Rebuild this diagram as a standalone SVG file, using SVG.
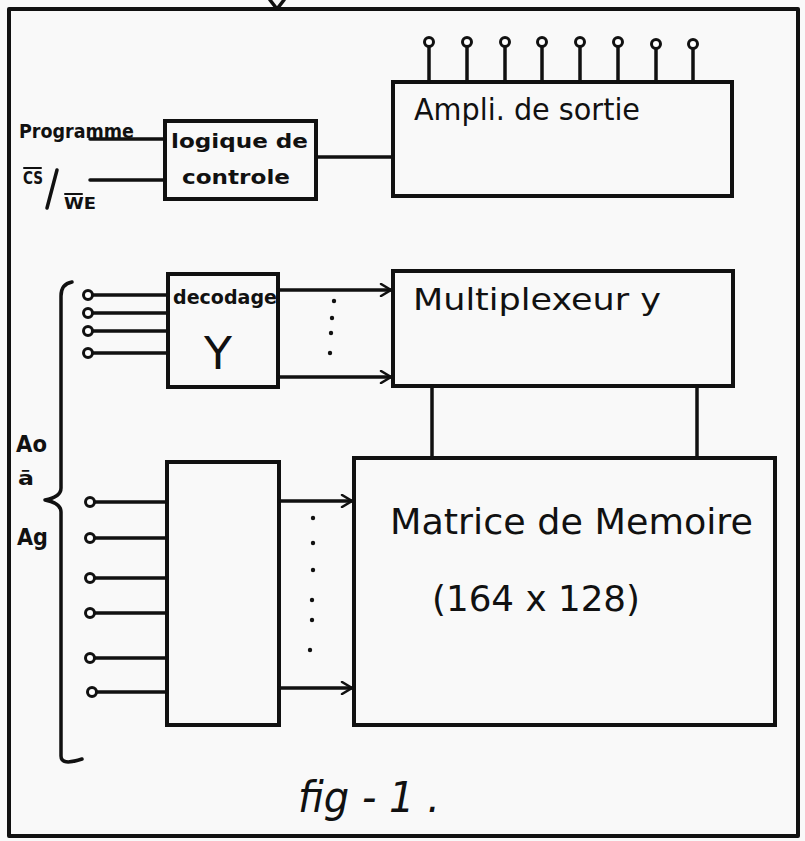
<svg xmlns="http://www.w3.org/2000/svg" width="805" height="841" viewBox="0 0 805 841">
<defs>
<style>
.ln{stroke:#111;stroke-width:3.5;fill:none;stroke-linecap:round;stroke-linejoin:round}
.box{stroke:#111;stroke-width:4;fill:none}
.pin{stroke:#111;stroke-width:3;fill:#fff}
.t{font-family:"DejaVu Sans","Liberation Sans",sans-serif;fill:#111}
.b{font-weight:bold}
</style>
<marker id="arr" markerWidth="14" markerHeight="14" refX="12" refY="7" orient="auto" markerUnits="userSpaceOnUse">
<path d="M2,1 L12,7 L2,13" fill="none" stroke="#111" stroke-width="2.5" stroke-linecap="round"/>
</marker>
</defs>
<rect width="805" height="841" fill="#f9f9f9"/>
<g id="frame">
<path class="ln" d="M9,9 L798,9 L798,836 L9,836 Z" style="stroke-width:4"/>
<path class="ln" d="M270,0 L277,9 L284,0"/>
</g>
<g id="ampli">
<rect class="box" x="393" y="82" width="339" height="114"/>
<text class="t" x="414" y="120" font-size="30" textLength="226" lengthAdjust="spacingAndGlyphs">Ampli. de sortie</text>
</g>
<g id="ampli-pins">
<g class="ln">
<line x1="429" y1="47" x2="429" y2="82"/><line x1="467" y1="47" x2="467" y2="82"/>
<line x1="505" y1="47" x2="505" y2="82"/><line x1="542" y1="47" x2="542" y2="82"/>
<line x1="580" y1="47" x2="580" y2="82"/><line x1="618" y1="47" x2="618" y2="82"/>
<line x1="656" y1="47" x2="656" y2="82"/><line x1="693" y1="47" x2="693" y2="82"/>
</g>
<circle class="pin" cx="429" cy="42" r="4.5"/><circle class="pin" cx="467" cy="42" r="4.5"/>
<circle class="pin" cx="505" cy="42" r="4.5"/><circle class="pin" cx="542" cy="42" r="4.5"/>
<circle class="pin" cx="580" cy="42" r="4.5"/><circle class="pin" cx="618" cy="42" r="4.5"/>
<circle class="pin" cx="656" cy="44" r="4.5"/><circle class="pin" cx="693" cy="44" r="4.5"/>
</g>
<g id="logique">
<rect class="box" x="165" y="121" width="151" height="78"/>
<text class="t b" x="171" y="148" font-size="20" textLength="137" lengthAdjust="spacingAndGlyphs">logique de</text>
<text class="t b" x="182" y="184" font-size="20" textLength="108" lengthAdjust="spacingAndGlyphs">controle</text>
</g>
<g id="inputs-control">
<text class="t b" x="19" y="138" font-size="20" textLength="115" lengthAdjust="spacingAndGlyphs">Programme</text>
<text class="t b" x="23" y="184" font-size="17" textLength="20" lengthAdjust="spacingAndGlyphs">CS</text>
<line class="ln" x1="24" y1="168" x2="41" y2="168" style="stroke-width:2"/>
<line class="ln" x1="57" y1="170" x2="47" y2="208"/>
<text class="t b" x="64" y="209" font-size="15" textLength="32" lengthAdjust="spacingAndGlyphs">WE</text>
<line class="ln" x1="65" y1="194" x2="82" y2="194" style="stroke-width:2"/>
</g>
<g id="decodage-y">
<rect class="box" x="168" y="274" width="110" height="113"/>
<text class="t b" x="173" y="304" font-size="19" textLength="104" lengthAdjust="spacingAndGlyphs">decodage</text>
<text class="t" x="204" y="369" font-size="44" textLength="28" lengthAdjust="spacingAndGlyphs">Y</text>
</g>
<g id="multiplexeur">
<rect class="box" x="393" y="271" width="340" height="115"/>
<text class="t" x="413" y="310" font-size="30" textLength="248" lengthAdjust="spacingAndGlyphs">Multiplexeur y</text>
</g>
<g id="decodage-x">
<rect class="box" x="167" y="462" width="112" height="263"/>
</g>
<g id="matrice">
<rect class="box" x="354" y="458" width="421" height="267"/>
<text class="t" x="390" y="534" font-size="36" textLength="363" lengthAdjust="spacingAndGlyphs">Matrice de Memoire</text>
<text class="t" x="432" y="611" font-size="36" textLength="208" lengthAdjust="spacingAndGlyphs">(164 x 128)</text>
</g>
<g id="address-label">
<path class="ln" d="M72,282 Q61,284 61,296 L61,488 Q61,497 45,500 Q61,503 61,512 L61,756 Q61,766 82,759"/>
<text class="t b" x="16" y="452" font-size="23" textLength="31" lengthAdjust="spacingAndGlyphs">Ao</text>
<text class="t b" x="18" y="485" font-size="20" textLength="16" lengthAdjust="spacingAndGlyphs">ā</text>
<text class="t b" x="17" y="545" font-size="23" textLength="31" lengthAdjust="spacingAndGlyphs">Ag</text>
</g>
<g id="fig-label">
<text class="t" x="298" y="812" font-size="42" font-style="italic" textLength="142" lengthAdjust="spacingAndGlyphs">fig - 1 .</text>
</g>
<g id="connectors">
<line class="ln" x1="90" y1="139" x2="165" y2="139"/>
<line class="ln" x1="90" y1="180" x2="165" y2="180"/>
<line class="ln" x1="316" y1="157" x2="393" y2="157"/>
<line class="ln" x1="93" y1="295" x2="168" y2="295"/>
<line class="ln" x1="93" y1="313" x2="168" y2="313"/>
<line class="ln" x1="93" y1="331" x2="168" y2="331"/>
<line class="ln" x1="93" y1="353" x2="168" y2="353"/>
<circle class="pin" cx="88" cy="295" r="4.5"/><circle class="pin" cx="88" cy="313" r="4.5"/>
<circle class="pin" cx="88" cy="331" r="4.5"/><circle class="pin" cx="88" cy="353" r="4.5"/>
<line class="ln" x1="278" y1="290" x2="391" y2="290" marker-end="url(#arr)"/>
<line class="ln" x1="278" y1="377" x2="391" y2="377" marker-end="url(#arr)"/>
<g fill="#111"><circle cx="334" cy="301" r="2.2"/><circle cx="332" cy="318" r="2.2"/><circle cx="331" cy="333" r="2.2"/><circle cx="330" cy="353" r="2.2"/></g>
<line class="ln" x1="432" y1="386" x2="432" y2="458"/>
<line class="ln" x1="697" y1="386" x2="697" y2="458"/>
<line class="ln" x1="95" y1="502" x2="167" y2="502"/>
<line class="ln" x1="95" y1="538" x2="167" y2="538"/>
<line class="ln" x1="95" y1="578" x2="167" y2="578"/>
<line class="ln" x1="95" y1="613" x2="167" y2="613"/>
<line class="ln" x1="95" y1="658" x2="167" y2="658"/>
<line class="ln" x1="95" y1="692" x2="167" y2="692"/>
<circle class="pin" cx="90" cy="502" r="4.5"/><circle class="pin" cx="90" cy="538" r="4.5"/>
<circle class="pin" cx="90" cy="578" r="4.5"/><circle class="pin" cx="90" cy="613" r="4.5"/>
<circle class="pin" cx="90" cy="658" r="4.5"/><circle class="pin" cx="92" cy="692" r="4.5"/>
<line class="ln" x1="279" y1="501" x2="352" y2="501" marker-end="url(#arr)"/>
<line class="ln" x1="279" y1="688" x2="352" y2="688" marker-end="url(#arr)"/>
<g fill="#111"><circle cx="313" cy="518" r="2.2"/><circle cx="313" cy="543" r="2.2"/><circle cx="313" cy="570" r="2.2"/><circle cx="312" cy="600" r="2.2"/><circle cx="312" cy="620" r="2.2"/><circle cx="310" cy="650" r="2.2"/></g>
</g>
</svg>
